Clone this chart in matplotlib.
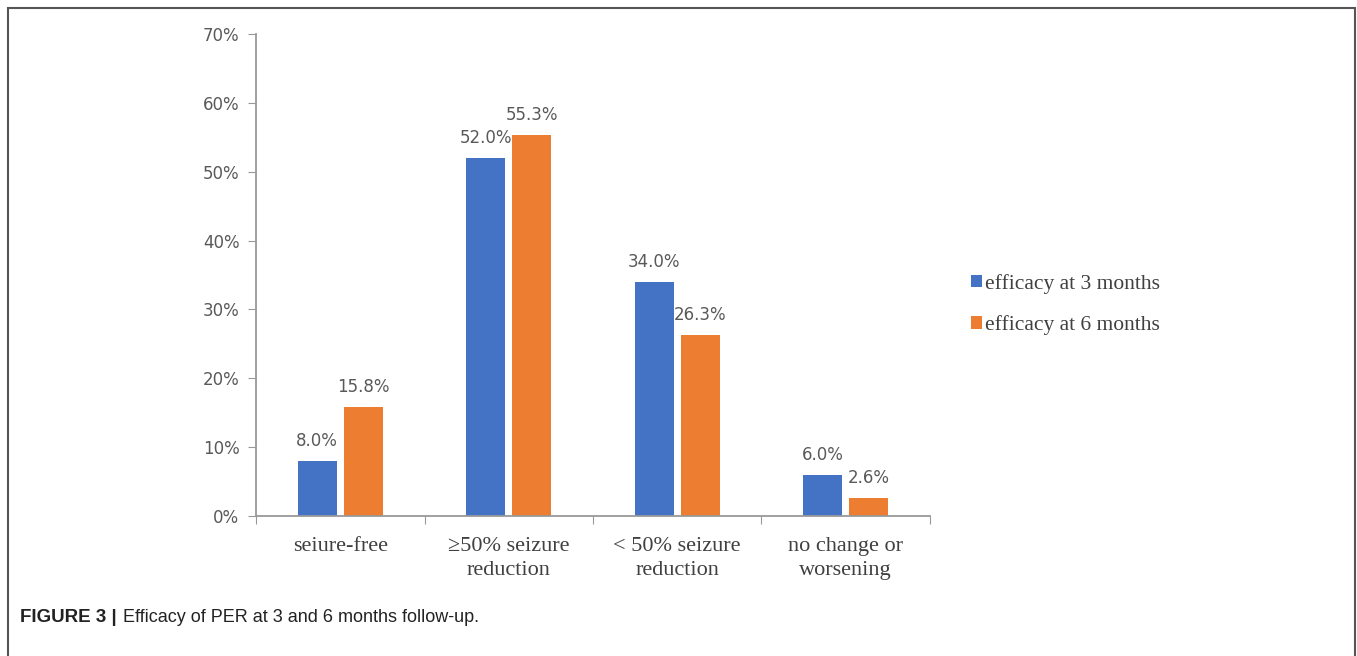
import matplotlib.pyplot as plt
import numpy as np
from matplotlib.patches import Rectangle

categories = ["seiure-free", "\u226550% seizure\nreduction", "< 50% seizure\nreduction", "no change or\nworsening"]
eff_3m = [8.0, 52.0, 34.0, 6.0]
eff_6m = [15.8, 55.3, 26.3, 2.6]
series_names = ["efficacy at 3 months", "efficacy at 6 months"]
yticks = [0, 10, 20, 30, 40, 50, 60, 70]

BLUE = "#4472C4"
ORANGE = "#ED7D31"
GRAY = "#595959"

fig = plt.figure(figsize=(13.57, 6.56), dpi=100)
ax = fig.add_axes([0.1887, 0.2134, 0.4966, 0.7348])

x = np.arange(len(categories))
w = 0.232
off = 0.137
b1 = ax.bar(x - off, eff_3m, w, color=BLUE, label=series_names[0])
b2 = ax.bar(x + off, eff_6m, w, color=ORANGE, label=series_names[1])

for bars, vals in ((b1, eff_3m), (b2, eff_6m)):
    for rect, v in zip(bars, vals):
        ax.annotate(f"{v:.1f}%", (rect.get_x() + rect.get_width() / 2, v),
                    xytext=(0, 8), textcoords="offset points",
                    ha="center", va="bottom", fontsize=12, color=GRAY)

ax.set_xlim(-0.5, len(categories) - 0.5)
ax.set_ylim(0, 70)
ax.set_yticks(yticks)
ax.set_yticklabels([f"{t}%" for t in yticks], fontsize=12, color=GRAY)
ax.set_xticks(np.arange(len(categories) + 1) - 0.5)
ax.set_xticklabels([])
ax.set_xticks(x, minor=True)
ax.set_xticklabels(categories, minor=True, fontsize=16, color="#404040",
                   family="Liberation Serif", linespacing=1.4)
ax.tick_params(axis="x", which="minor", length=0, pad=15)
ax.tick_params(axis="x", which="major", length=6, color="#999999", direction="out")
ax.tick_params(axis="y", length=6, color="#999999", pad=6)

for side in ("top", "right"):
    ax.spines[side].set_visible(False)
for side in ("left", "bottom"):
    ax.spines[side].set_color("#999999")
    ax.spines[side].set_linewidth(1.3)

fig.legend(handles=[b1, b2], labels=series_names, loc="upper left",
           bbox_to_anchor=(0.7015, 0.612), frameon=False,
           prop={"family": "Liberation Serif", "size": 15.5},
           handlelength=0.5, handleheight=0.5, handletextpad=0.15,
           labelspacing=1.0, labelcolor="#404040")

# outer frame of the figure panel
fig.patches.append(Rectangle((8 / 1357, -0.05), 1347 / 1357, 1.05 - 8 / 656,
                             transform=fig.transFigure, fill=False,
                             edgecolor="#555555", linewidth=1.5))

# caption: bold label followed by plain text
cap_y = 1 - 617 / 656
head = fig.text(20 / 1357, cap_y, "FIGURE 3 |", fontsize=13.5, fontweight="bold",
                family="Liberation Sans", color="#222222", va="center")
fig.canvas.draw()
bb = head.get_window_extent()
fig.text((bb.x1 + 6) / fig.bbox.width, cap_y, "Efficacy of PER at 3 and 6 months follow-up.",
         fontsize=13, family="Liberation Sans", color="#222222", va="center")

fig.savefig("out.png", dpi=100)
